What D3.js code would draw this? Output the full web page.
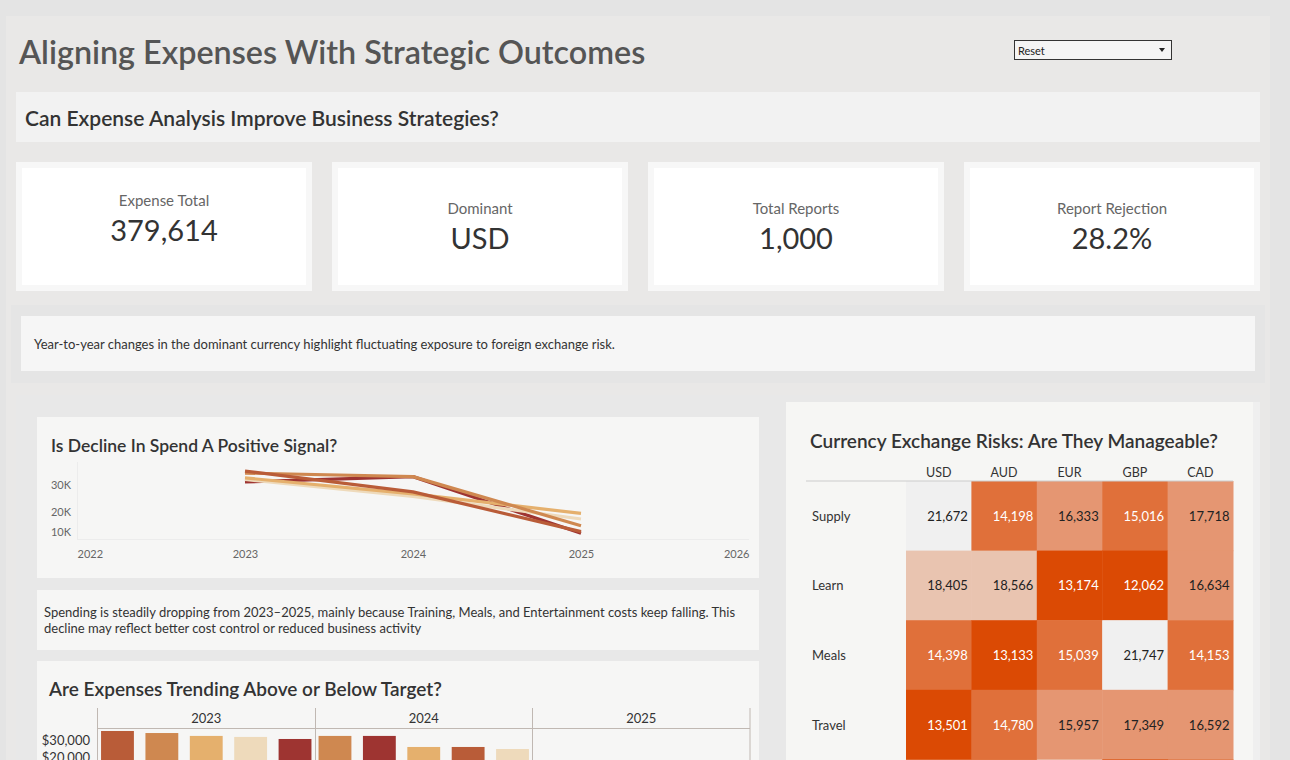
<!DOCTYPE html>
<html>
<head>
<meta charset="utf-8">
<script src="https://cdn.jsdelivr.net/npm/d3@7"></script>
<style>
  html, body { margin: 0; padding: 0; background: #e4e4e4; }
  svg { display: block; font-family: Lato, "Noto Sans", sans-serif; }
</style>
</head>
<body>
<svg id="chart" width="1290" height="760"></svg>
<script>
// ---------------- DATA ----------------
const mainTitle = "Aligning Expenses With Strategic Outcomes";
const subTitle = "Can Expense Analysis Improve Business Strategies?";
const kpiLabels = ["Expense Total", "Dominant", "Total Reports", "Report Rejection"];
const kpiValues = ["379,614", "USD", "1,000", "28.2%"];
const noteText = "Year-to-year changes in the dominant currency highlight fluctuating exposure to foreign exchange risk.";

const categories = ["Travel", "Supply", "Learn", "Meals", "Entertain"];
const categoryColors = ["#b95c38", "#cf8850", "#e5b06d", "#eedabb", "#9e3431"];

// line chart: spend by category per year
const lineYears = [2023, 2024, 2025];
const lineTravel = [34300, 27600, 10200];
const lineSupply = [33700, 32600, 13600];
const lineLearn = [32200, 26900, 19400];
const lineMeals = [31700, 26000, 16900];
const lineEntertain = [30900, 32600, 9100];
const lineAxisYears = [2022, 2023, 2024, 2025, 2026];
const lineTicks = [10000, 20000, 30000];

const lineText = ["Spending is steadily dropping from 2023\u20132025, mainly because Training, Meals, and Entertainment costs keep falling. This",
                  "decline may reflect better cost control or reduced business activity"];

// bar chart: expenses per year, sorted within year
const barYears = ["2023", "2024", "2025"];
const bar2023Cats = ["Travel", "Supply", "Learn", "Meals", "Entertain"];
const bar2023Vals = [35300, 34100, 32400, 31800, 30600];
const bar2024Cats = ["Supply", "Entertain", "Learn", "Travel", "Meals"];
const bar2024Vals = [32400, 32400, 25900, 25900, 24700];
const bar2025Cats = [];
const bar2025Vals = [];
const barTicks = [20000, 30000];

// heatmap
const heatCols = ["USD", "AUD", "EUR", "GBP", "CAD"];
const heatRows = ["Supply", "Learn", "Meals", "Travel", "Other"];
const heatSupply = [21672, 14198, 16333, 15016, 17718];
const heatLearn = [18405, 18566, 13174, 12062, 16634];
const heatMeals = [14398, 13133, 15039, 21747, 14153];
const heatTravel = [13501, 14780, 15957, 17349, 16592];
const heatOther = [14600, 14900, 18200, 13300, 14700];
const heatThresholds = [13800, 15500, 18000, 20000];
const heatColors = ["#db4a04", "#e0703a", "#e59672", "#e9c4b0", "#f0f0f0"];

// ---------------- DRAW ----------------
const svg = d3.select("#chart");
const FONT = "Lato, 'Noto Sans', sans-serif";
const VIEW_H = 760;

function rect(x, y, w, h, fill, stroke) {
  const r = svg.append("rect").attr("x", x).attr("y", y).attr("width", w).attr("height", h).attr("fill", fill);
  if (stroke) r.attr("stroke", stroke);
  return r;
}
function text(x, y, s, size, color, weight, anchor) {
  return svg.append("text").attr("x", x).attr("y", y).text(s)
    .attr("font-size", size).attr("fill", color).attr("font-weight", weight || 400)
    .attr("text-anchor", anchor || "start").attr("dominant-baseline", "central")
    .attr("font-family", FONT);
}

// backgrounds
rect(0, 0, 1290, 760, "#e4e4e4");
rect(6, 16, 1264, 744, "#e9e8e7");

// title
text(19, 51, mainTitle, 32.3, "#555555", 600);

// Reset dropdown
rect(1014.5, 40.5, 157, 19, "#f4f4f4", "#333333");
text(1018, 50, "Reset", 11, "#222", 400);
svg.append("path").attr("d", "M1159,48 L1165,48 L1162,52 Z").attr("fill", "#222");

// subtitle banner
rect(16, 92, 1244, 50, "#f2f2f2");
text(25, 117, subTitle, 21, "#333333", 600);

// KPI cards
const kpiX = d3.scaleBand().domain(kpiLabels).range([16, 1260]).paddingInner(20 / 316).paddingOuter(0);
kpiLabels.forEach((lab, i) => {
  const x = kpiX(lab), w = kpiX.bandwidth();
  rect(x, 162, w, 129, "#f7f7f7");
  rect(x + 6, 168, w - 12, 117, "#ffffff");
  const off = i === 0 ? -8 : 0;
  text(x + w / 2, 208 + off, lab, 15, "#666666", 400, "middle");
  text(x + w / 2, 237 + off, kpiValues[i], 29, "#333333", 400, "middle");
});

// note box
rect(11, 305, 1254, 78, "#e5e5e5");
rect(21, 316, 1234, 55, "#f6f6f6");
text(34, 344, noteText, 13, "#333333", 400);

// lower panel
rect(16, 395, 1244, 365, "#e8e8e8");
rect(1253, 402, 7, 358, "#efefef");

// ---------- line chart card ----------
rect(37, 417, 722, 161, "#f6f6f5");
text(51, 445, "Is Decline In Spend A Positive Signal?", 17.5, "#333333", 600);

const lx = d3.scaleLinear().domain([2022, 2026]).range([77, 749]);
const ly = d3.scalePow().exponent(1.6).domain([0, 36000]).range([541.8, 465.4]);

svg.append("line").attr("x1", 77.5).attr("x2", 77.5).attr("y1", 462).attr("y2", 539)
  .attr("stroke", "#ececec");
svg.append("line").attr("x1", 77).attr("x2", 749).attr("y1", 539.5).attr("y2", 539.5)
  .attr("stroke", "#ececec");

const yAx = svg.append("g").attr("transform", "translate(77,0)")
  .call(d3.axisLeft(ly).tickValues(lineTicks).tickSize(0).tickPadding(6)
    .tickFormat(d => (d / 1000) + "K"));
yAx.select(".domain").remove();
yAx.selectAll("text").attr("font-size", 11).attr("fill", "#666").attr("font-family", FONT);

const xAx = svg.append("g").attr("transform", "translate(0,548)")
  .call(d3.axisBottom(lx).tickValues(lineAxisYears).tickSize(0).tickPadding(2).tickFormat(d3.format("d")));
xAx.select(".domain").remove();
xAx.selectAll("text").attr("font-size", 11).attr("fill", "#666").attr("font-family", FONT)
  .attr("text-anchor", (d, i) => i === 0 ? "start" : (i === lineAxisYears.length - 1 ? "end" : "middle"));

const lineSeries = [lineTravel, lineSupply, lineLearn, lineMeals, lineEntertain];
const lineGen = d3.line().x((d, i) => lx(lineYears[i])).y(d => ly(d));
const drawOrder = [4, 3, 2, 1, 0];
drawOrder.forEach(k => {
  svg.append("path").datum(lineSeries[k]).attr("d", lineGen)
    .attr("fill", "none").attr("stroke", categoryColors[k]).attr("stroke-width", 3.2)
    .attr("stroke-linejoin", "round");
});

// ---------- text card ----------
rect(37, 590, 722, 60, "#f6f6f5");
lineText.forEach((t, i) => text(44, 612 + i * 16, t, 13, "#333333", 400));

// ---------- bar card ----------
rect(37, 661, 722, 110, "#f6f6f5");
text(49, 688, "Are Expenses Trending Above or Below Target?", 19, "#333333", 600);

const px = d3.scaleBand().domain(barYears).range([97.5, 750]).padding(0);
const by = d3.scaleLinear().domain([0, 40000]).range([791, 723]);
const barCats = [bar2023Cats, bar2024Cats, bar2025Cats];
const barVals = [bar2023Vals, bar2024Vals, bar2025Vals];
const colorOf = d3.scaleOrdinal().domain(categories).range(categoryColors);

const clip = svg.append("clipPath").attr("id", "barclip");
clip.append("rect").attr("x", 37).attr("y", 661).attr("width", 722).attr("height", 99);
const barG = svg.append("g").attr("clip-path", "url(#barclip)");

// header row
barYears.forEach((yr, yi) => {
  barG.append("text").attr("x", px(yr) + px.bandwidth() / 2).attr("y", 718).text(yr)
    .attr("font-size", 13).attr("fill", "#333").attr("text-anchor", "middle")
    .attr("dominant-baseline", "central").attr("font-family", FONT);
});
barG.append("line").attr("x1", 97.5).attr("x2", 750).attr("y1", 728.5).attr("y2", 728.5)
  .attr("stroke", "#c0b8b2");
[97.5, 315.5, 532.5, 750].forEach(x => {
  barG.append("line").attr("x1", x).attr("x2", x).attr("y1", 708).attr("y2", 800)
    .attr("stroke", "#c0b8b2");
});

barYears.forEach((yr, yi) => {
  const inner = d3.scaleBand().domain(barCats[yi]).range([px(yr), px(yr) + px.bandwidth()])
    .paddingInner(0.26).paddingOuter(0.08);
  barCats[yi].forEach((c, j) => {
    barG.append("rect").attr("x", inner(c)).attr("width", inner.bandwidth())
      .attr("y", by(barVals[yi][j])).attr("height", by(0) - by(barVals[yi][j]))
      .attr("fill", colorOf(c));
  });
});

const bAx = barG.append("g").attr("transform", "translate(93,0)")
  .call(d3.axisLeft(by).tickValues(barTicks).tickSize(0).tickPadding(3)
    .tickFormat(d => "$" + d3.format(",")(d)));
bAx.select(".domain").remove();
bAx.selectAll("text").attr("font-size", 13).attr("fill", "#333").attr("font-family", FONT);

// ---------- heatmap card ----------
rect(786, 402, 467, 358, "#f6f6f4");
text(810, 440, "Currency Exchange Risks: Are They Manageable?", 19, "#333333", 600);

const hx = d3.scaleBand().domain(heatCols).range([906, 1233]).padding(0);
const hy = d3.scaleBand().domain(heatRows).range([481, 481 + 69.6 * heatRows.length]).padding(0);
const hColor = d3.scaleThreshold().domain(heatThresholds).range(heatColors);
const heatMatrix = [heatSupply, heatLearn, heatMeals, heatTravel, heatOther];

heatCols.forEach(c => text(hx(c) + hx.bandwidth() / 2, 472, c, 12.5, "#333", 400, "middle"));

heatRows.forEach((r, ri) => {
  const cy = hy(r) + hy.bandwidth() / 2;
  const visibleText = cy < VIEW_H - 8;
  if (visibleText) text(812, cy, r, 13, "#333", 400);
  heatCols.forEach((c, ci) => {
    const v = heatMatrix[ri][ci];
    rect(hx(c), hy(r), hx.bandwidth() + 0.5, hy.bandwidth() + 0.5, hColor(v));
    const dark = v < heatThresholds[1];
    if (visibleText) text(hx(c) + hx.bandwidth() - 3.5, cy, d3.format(",")(v), 13,
      dark ? "#ffffff" : "#222222", 400, "end");
  });
});
svg.append("line").attr("x1", 806).attr("x2", 1233).attr("y1", 481).attr("y2", 481)
  .attr("stroke", "#cccccc");
</script>
</body>
</html>
